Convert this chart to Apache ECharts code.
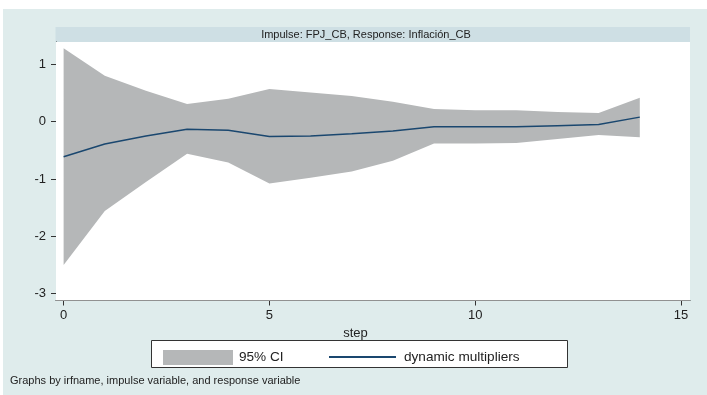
<!DOCTYPE html>
<html>
<head>
<meta charset="utf-8">
<script src="https://cdn.jsdelivr.net/npm/echarts@6/dist/echarts.min.js"></script>
<style>
html,body{margin:0;padding:0;background:#fff;}
#chart{width:707px;height:395px;}
</style>
</head>
<body>
<div id="chart"></div>
<script>
// ---- data ----
var steps = [0,1,2,3,4,5,6,7,8,9,10,11,12,13,14];
var irf   = [-0.61,-0.39,-0.25,-0.13,-0.15,-0.26,-0.25,-0.21,-0.16,-0.09,-0.09,-0.09,-0.07,-0.05,0.08];
var upper = [1.28,0.80,0.54,0.31,0.40,0.57,0.51,0.45,0.35,0.22,0.20,0.20,0.17,0.15,0.42];
var lower = [-2.50,-1.56,-1.05,-0.56,-0.71,-1.08,-0.98,-0.87,-0.68,-0.38,-0.38,-0.37,-0.30,-0.23,-0.27];
var yTicks = [-3,-2,-1,0,1];
var xTicks = [0,5,10,15];
var panelTitle = 'Impulse: FPJ_CB, Response: Inflación_CB';
var xTitle = 'step';
var ciName = '95% CI';
var lineName = 'dynamic multipliers';
var noteText = 'Graphs by irfname, impulse variable, and response variable';

// ---- build ----
var BG = '#dfecec', STRIP = '#cedfe4', GRID = '#cde1e3', BAND = '#b5b7b8', NAVY = '#1a476f';
var FONT = '"Liberation Sans", Arial, Helvetica, sans-serif';

var bandData = steps.map(function(s,i){ return [s, lower[i], upper[i]]; });
var irfData  = steps.map(function(s,i){ return [s, irf[i]]; });

// one closed polygon through all band rows, placed with the axes' own scales
function renderBand(params, api) {
  if (params.dataIndexInside !== 0) return null;
  var n = params.dataInsideLength, top = [], bot = [];
  for (var j = 0; j < n; j++) {
    top.push(api.coord([api.value(0, j), api.value(2, j)]));
    bot.unshift(api.coord([api.value(0, j), api.value(1, j)]));
  }
  return {
    type:'polygon',
    shape:{points:top.concat(bot)},
    style:{fill:BAND}
  };
}

var chart = echarts.init(document.getElementById('chart'), null, {renderer:'canvas'});
chart.setOption({
  animation:false,
  backgroundColor:'#fff',
  textStyle:{fontFamily:FONT},
  grid:{left:56, top:42, width:634, height:258.5, show:true, backgroundColor:'#fff', borderWidth:0, z:1},
  xAxis:{
    type:'value', min:-0.185, max:15.22,
    axisLine:{show:true, onZero:false, lineStyle:{color:'#222', width:1}},
    axisTick:{show:true, customValues:xTicks, length:5, lineStyle:{color:'#333'}},
    axisLabel:{customValues:xTicks, color:'#222', fontSize:13, margin:8, fontFamily:FONT},
    splitLine:{show:false},
    name:xTitle, nameLocation:'middle', nameGap:26,
    nameTextStyle:{color:'#222', fontSize:13, fontFamily:FONT, padding:[0,35,0,0]}
  },
  yAxis:{
    type:'value', min:-3.12, max:1.391,
    axisLine:{show:true, onZero:false, lineStyle:{color:'#222', width:1}},
    axisTick:{show:true, customValues:yTicks, length:5, lineStyle:{color:'#333'}},
    axisLabel:{customValues:yTicks, color:'#222', fontSize:13, margin:10, fontFamily:FONT},
    splitLine:{show:true, lineStyle:{color:GRID, width:1.2}}
  },
  legend:[
    {left:158, top:345, itemWidth:70, itemHeight:15, selectedMode:false,
     data:[{name:ciName, icon:'rect', itemStyle:{color:BAND}}],
     textStyle:{fontSize:13.6, color:'#222', fontFamily:FONT, padding:[0,0,0,1]}},
    {left:324, top:345, itemWidth:67, itemHeight:2, selectedMode:false,
     data:[{name:lineName, icon:'rect', itemStyle:{color:NAVY}}],
     textStyle:{fontSize:13.6, color:'#222', fontFamily:FONT, padding:[0,0,0,3]}}
  ],
  graphic:[
    {type:'rect', z:-100, silent:true, shape:{x:3, y:9, width:704, height:386}, style:{fill:BG}},
    {type:'rect', z:-90, silent:true, shape:{x:55.5, y:27, width:634.5, height:15}, style:{fill:STRIP}},
    {type:'text', z:10, silent:true, x:366, y:34.5, style:{text:panelTitle, fill:'#222', font:'11px '+FONT, textAlign:'center', textVerticalAlign:'middle'}},
    {type:'rect', z:-80, silent:true, shape:{x:151.5, y:340.5, width:416, height:27}, style:{fill:'#fff', stroke:'#333', lineWidth:1}},
    {type:'text', z:10, silent:true, x:10, y:381, style:{text:noteText, fill:'#222', font:'11px '+FONT, textAlign:'left', textVerticalAlign:'middle'}}
  ],
  series:[
    {name:ciName, type:'custom', renderItem:renderBand, data:bandData, itemStyle:{color:BAND}, silent:true, z:2,
     encode:{x:0, y:[1,2]}},
    {name:lineName, type:'line', data:irfData, symbol:'none',
     lineStyle:{color:NAVY, width:1.5}, itemStyle:{color:NAVY}, z:3}
  ]
});
</script>
</body>
</html>
